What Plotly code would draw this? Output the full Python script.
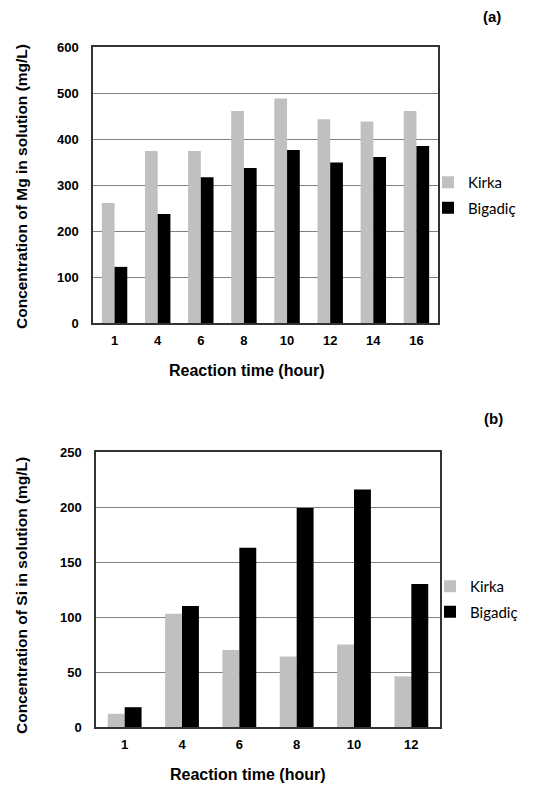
import plotly.graph_objects as go

# Panel (a): Mg
times_a = ["1", "4", "6", "8", "10", "12", "14", "16"]
mg_kirka = [261, 374, 374, 461, 488, 443, 438, 461]
mg_bigadic = [122, 237, 317, 337, 376, 349, 361, 385]

# Panel (b): Si
times_b = ["1", "4", "6", "8", "10", "12"]
si_kirka = [12, 103, 70, 64, 75, 46]
si_bigadic = [18, 110, 163, 199, 216, 130]

OFF = 8  # page body margin offset
W, H = 535 - OFF, 785 - OFF
GRAY = "#c0c0c0"
BLACK = "#000000"
TICKFONT = dict(family="Liberation Sans, Arial", size=13, color="#000000", weight="bold")
LEGFONT = dict(family="Lato, Open Sans", size=15, color="#000000")

def px_x(p):
    return (p - OFF) / W

def px_y(p):
    return 1 - (p - OFF) / H

fig = go.Figure()
fig.add_trace(go.Bar(x=times_a, y=mg_kirka, name="Kirka", marker=dict(color=GRAY, line=dict(width=0)),
                     xaxis="x", yaxis="y", legend="legend", legendgroup="a1"))
fig.add_trace(go.Bar(x=times_a, y=mg_bigadic, name="Bigadiç", marker=dict(color=BLACK, line=dict(width=0)),
                     xaxis="x", yaxis="y", legend="legend", legendgroup="a2"))
fig.add_trace(go.Bar(x=times_b, y=si_kirka, name="Kirka", marker=dict(color=GRAY, line=dict(width=0)),
                     xaxis="x2", yaxis="y2", legend="legend2", legendgroup="b1"))
fig.add_trace(go.Bar(x=times_b, y=si_bigadic, name="Bigadiç", marker=dict(color=BLACK, line=dict(width=0)),
                     xaxis="x2", yaxis="y2", legend="legend2", legendgroup="b2"))

axis_common = dict(showline=True, linecolor="#333333", linewidth=1.5, mirror=True, ticks="",
                   tickfont=TICKFONT, zeroline=False)

fig.update_layout(
    width=W, height=H,
    margin=dict(l=0, r=0, t=0, b=0, autoexpand=False),
    paper_bgcolor="white", plot_bgcolor="white",
    barmode="group", bargap=0.41, bargroupgap=0,
    xaxis=dict(domain=[px_x(93), px_x(438)], anchor="y", showgrid=False, ticklabelstandoff=5, **axis_common),
    yaxis=dict(domain=[px_y(323), px_y(47)], anchor="x", range=[0, 600], dtick=100,
               showgrid=True, gridcolor="#808080", gridwidth=1, ticklabelstandoff=10, **axis_common),
    xaxis2=dict(domain=[px_x(96), px_x(440)], anchor="y2", showgrid=False, ticklabelstandoff=5, **axis_common),
    yaxis2=dict(domain=[px_y(727), px_y(452)], anchor="x2", range=[0, 250], dtick=50,
                showgrid=True, gridcolor="#808080", gridwidth=1, ticklabelstandoff=10, **axis_common),
    legend=dict(x=px_x(428), y=px_y(166), xanchor="left", yanchor="top", font=LEGFONT,
                bgcolor="rgba(0,0,0,0)", itemwidth=30, tracegroupgap=3),
    legend2=dict(x=px_x(430), y=px_y(570), xanchor="left", yanchor="top", font=LEGFONT,
                 bgcolor="rgba(0,0,0,0)", itemwidth=30, tracegroupgap=3),
    showlegend=True,
)

TITLEFONT = dict(family="Liberation Sans, Arial", size=15.5, color="#000000", weight="bold")
XTITLEFONT = dict(family="Liberation Sans, Arial", size=16, color="#000000", weight="bold")
LABELFONT = dict(family="Liberation Sans, Arial", size=15, color="#000000", weight="bold")
annotations = [
    dict(text="Concentration of Mg in solution (mg/L)", x=px_x(21), y=px_y(187), xref="paper", yref="paper",
         textangle=-90, showarrow=False, font=TITLEFONT, xanchor="center", yanchor="middle"),
    dict(text="Reaction time (hour)", x=px_x(247), y=px_y(370), xref="paper", yref="paper",
         showarrow=False, font=XTITLEFONT, xanchor="center", yanchor="middle"),
    dict(text="(a)", x=px_x(492), y=px_y(17), xref="paper", yref="paper",
         showarrow=False, font=LABELFONT, xanchor="center", yanchor="middle"),
    dict(text="Concentration of Si in solution (mg/L)", x=px_x(21), y=px_y(596), xref="paper", yref="paper",
         textangle=-90, showarrow=False, font=TITLEFONT, xanchor="center", yanchor="middle"),
    dict(text="Reaction time (hour)", x=px_x(248), y=px_y(774), xref="paper", yref="paper",
         showarrow=False, font=XTITLEFONT, xanchor="center", yanchor="middle"),
    dict(text="(b)", x=px_x(493), y=px_y(418), xref="paper", yref="paper",
         showarrow=False, font=LABELFONT, xanchor="center", yanchor="middle"),
]
fig.update_layout(annotations=annotations)

fig.write_html("out.html")
